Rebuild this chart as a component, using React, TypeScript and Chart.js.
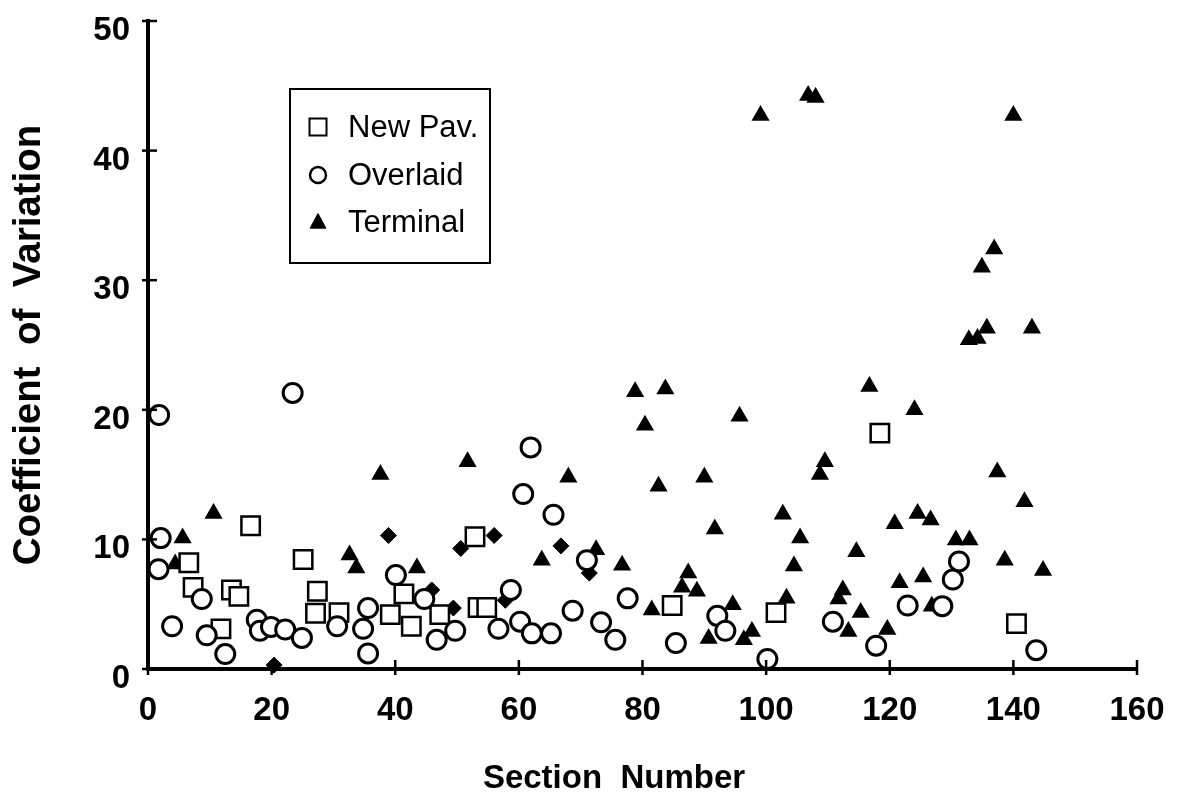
import React, { useEffect, useRef } from 'react';
import { Chart, registerables } from 'chart.js';

Chart.register(...registerables);

// ---- Data ----
const newPavX = [6.6, 7.3, 11.8, 13.5, 14.7, 16.6, 25.1, 27.1, 27.4, 30.9, 39.2, 41.4, 42.6, 47.2, 52.9, 53.4, 54.8, 84.8, 101.6, 118.4, 140.5];
const newPavY = [8.2, 6.3, 3.1, 6.1, 5.6, 11.05, 8.45, 4.3, 6.0, 4.35, 4.2, 5.8, 3.3, 4.2, 10.2, 4.75, 4.75, 4.9, 4.35, 18.2, 3.5];

const overlaidX = [1.8, 23.4, 2.05, 1.7, 8.7, 3.9, 9.5, 12.5, 17.6, 18.1, 19.9, 22.2, 24.9, 30.6, 34.8, 35.6, 35.6, 40.1, 44.7, 46.7, 49.7, 56.7, 58.7, 60.2, 60.7, 61.9, 62.1, 65.2, 65.6, 68.7, 71.0, 73.3, 75.6, 77.6, 85.4, 92.1, 93.4, 100.2, 110.8, 117.8, 122.9, 128.5, 130.2, 131.2, 143.7];
const overlaidY = [19.6, 21.3, 10.1, 7.7, 5.4, 3.3, 2.6, 1.15, 3.8, 2.95, 3.25, 3.05, 2.4, 3.3, 3.1, 4.7, 1.2, 7.25, 5.4, 2.25, 2.95, 3.1, 6.1, 3.65, 13.5, 17.1, 2.75, 2.75, 11.9, 4.5, 8.4, 3.6, 2.25, 5.45, 2.0, 4.1, 2.95, 0.77, 3.65, 1.8, 4.9, 4.85, 6.9, 8.3, 1.45];

const terminalX = [4.4, 5.6, 10.6, 32.6, 33.7, 37.6, 43.5, 51.7, 63.7, 68.0, 72.5, 76.7, 78.8, 80.4, 81.5, 82.6, 83.7, 86.4, 87.4, 88.8, 90.0, 90.7, 91.7, 94.6, 95.7, 96.4, 97.7, 99.1, 102.7, 103.3, 104.5, 105.5, 106.8, 108.0, 108.7, 109.5, 111.7, 112.4, 113.3, 114.6, 115.3, 116.7, 119.6, 120.8, 121.6, 124.0, 124.5, 125.4, 126.6, 126.8, 130.7, 132.9, 132.8, 134.2, 134.9, 135.7, 136.9, 137.4, 138.6, 140.0, 141.8, 143.0, 144.8];
const terminalY = [8.1, 10.1, 12.0, 8.8, 7.8, 15.0, 7.8, 16.0, 8.4, 14.8, 9.2, 8.0, 21.4, 18.8, 4.55, 14.1, 21.6, 6.3, 7.4, 6.0, 14.8, 2.35, 10.8, 4.95, 19.5, 2.25, 2.9, 42.7, 11.95, 5.45, 7.95, 10.1, 44.25, 44.1, 15.0, 16.0, 5.4, 6.1, 2.9, 9.05, 4.35, 21.8, 3.05, 11.2, 6.65, 20.0, 12.0, 7.1, 11.5, 4.85, 9.95, 9.95, 25.4, 25.5, 31.0, 26.3, 32.4, 15.2, 8.4, 42.7, 12.9, 26.3, 7.6];

// unlabelled filled diamond marks seen on the original
const diamondX = [20.4, 38.9, 45.9, 49.4, 50.6, 56.0, 57.8, 66.8, 71.4];
const diamondY = [0.3, 10.3, 6.1, 4.7, 9.3, 10.3, 5.3, 9.5, 7.4];

const xTicks = [0, 20, 40, 60, 80, 100, 120, 140, 160];
const yTicks = [0, 10, 20, 30, 40, 50];

const legendLabels = ['New Pav.', 'Overlaid', 'Terminal'];
const xTitle = 'Section  Number';
const yTitle = 'Coefficient  of  Variation';

const toPoints = (xs: number[], ys: number[]) => xs.map((x, i) => ({ x, y: ys[i] }));

const FONT = '"Liberation Sans", Arial, Helvetica, sans-serif';

const decorPlugin = {
  id: 'decor',
  afterDraw(chart: any) {
    const { ctx, chartArea, scales } = chart;
    const xs = scales.x;
    const ys = scales.y;
    ctx.save();
    ctx.strokeStyle = '#000';
    ctx.fillStyle = '#000';
    ctx.lineWidth = 2.5;
    // crossing tick marks
    xTicks.forEach((v) => {
      const px = xs.getPixelForValue(v);
      ctx.beginPath();
      ctx.moveTo(px, chartArea.bottom - 9);
      ctx.lineTo(px, chartArea.bottom + 6);
      ctx.stroke();
    });
    yTicks.forEach((v) => {
      const py = ys.getPixelForValue(v);
      ctx.beginPath();
      ctx.moveTo(chartArea.left - 6, py);
      ctx.lineTo(chartArea.left + 9, py);
      ctx.stroke();
    });

    // x axis title
    ctx.font = `bold 33px ${FONT}`;
    ctx.textAlign = 'center';
    ctx.textBaseline = 'middle';
    ctx.fillText(xTitle, chartArea.left + 466, chartArea.bottom + 110);

    // legend box
    const bx = chartArea.left + 142;
    const by = chartArea.top + 68;
    const bw = 200;
    const bh = 174;
    ctx.lineWidth = 2;
    ctx.strokeRect(bx, by, bw, bh);
    ctx.font = `31px ${FONT}`;
    ctx.textAlign = 'left';
    const rowY = [by + 38, by + 86, by + 133];
    const mx = bx + 28;
    // square
    ctx.lineWidth = 2;
    ctx.fillStyle = '#fff';
    ctx.fillRect(mx - 8.5, rowY[0] - 8.5, 17, 17);
    ctx.strokeRect(mx - 8.5, rowY[0] - 8.5, 17, 17);
    // circle
    ctx.lineWidth = 2.5;
    ctx.beginPath();
    ctx.arc(mx, rowY[1], 8, 0, Math.PI * 2);
    ctx.fill();
    ctx.stroke();
    // triangle
    ctx.fillStyle = '#000';
    ctx.beginPath();
    ctx.moveTo(mx, rowY[2] - 8);
    ctx.lineTo(mx + 7.5, rowY[2] + 6);
    ctx.lineTo(mx - 7.5, rowY[2] + 6);
    ctx.closePath();
    ctx.fill();
    ctx.lineWidth = 1.5;
    ctx.lineJoin = 'round';
    ctx.stroke();
    ctx.fillStyle = '#000';
    legendLabels.forEach((t, i) => ctx.fillText(t, bx + 58, rowY[i] + 1));
    ctx.restore();
  },
};

export default function App() {
  const canvasRef = useRef<HTMLCanvasElement | null>(null);

  useEffect(() => {
    const canvas = canvasRef.current;
    if (!canvas) return;
    const chart = new Chart(canvas, {
      type: 'scatter',
      data: {
        datasets: [
          {
            label: legendLabels[0],
            data: toPoints(newPavX, newPavY),
            pointStyle: 'rect',
            pointRadius: 13,
            pointBackgroundColor: '#fff',
            pointBorderColor: '#000',
            pointBorderWidth: 2.5,
            order: 1,
            clip: false,
          } as any,
          {
            label: legendLabels[1],
            data: toPoints(overlaidX, overlaidY),
            pointStyle: 'circle',
            pointRadius: 9.5,
            pointBackgroundColor: '#fff',
            pointBorderColor: '#000',
            pointBorderWidth: 3,
            order: 0,
            clip: false,
          },
          {
            label: legendLabels[2],
            data: toPoints(terminalX, terminalY),
            pointStyle: 'triangle',
            pointRadius: 9,
            pointBackgroundColor: '#000',
            pointBorderColor: '#000',
            pointBorderWidth: 1.5,
            order: 2,
            clip: false,
          },
          {
            label: 'other',
            data: toPoints(diamondX, diamondY),
            pointStyle: 'rectRot',
            pointRadius: 8,
            pointBackgroundColor: '#000',
            pointBorderColor: '#000',
            pointBorderWidth: 1,
            order: 3,
            clip: false,
          },
        ],
      },
      options: {
        responsive: false,
        animation: false,
        devicePixelRatio: 1,
        layout: { padding: { left: 0, top: 21, right: 40, bottom: 0 } },
        plugins: {
          legend: { display: false },
          tooltip: { enabled: false },
          title: { display: false },
        },
        scales: {
          x: {
            type: 'linear',
            min: 0,
            max: 160,
            grid: { display: false, drawTicks: false },
            border: { display: true, color: '#000', width: 4 },
            ticks: {
              stepSize: 20,
              color: '#000',
              padding: 22,
              font: { family: FONT, size: 33, weight: 'bold' },
            },
            afterFit: (s: any) => {
              s.height = 125;
              s.paddingLeft = 0;
              s.paddingRight = 0;
            },
          },
          y: {
            type: 'linear',
            min: 0,
            max: 50,
            grid: { display: false, drawTicks: false },
            border: { display: true, color: '#000', width: 4 },
            ticks: {
              stepSize: 10,
              color: '#000',
              padding: 18,
              labelOffset: 10,
              font: { family: FONT, size: 33, weight: 'bold' },
            },
            title: {
              display: true,
              text: yTitle,
              color: '#000',
              font: { family: FONT, size: 38.5, weight: 'bold' },
              padding: { top: 6, bottom: 0 },
            },
            afterFit: (s: any) => {
              s.width = 148;
              s.paddingTop = 0;
              s.paddingBottom = 0;
            },
          },
        },
      },
      plugins: [decorPlugin],
    });
    return () => chart.destroy();
  }, []);

  return (
    <div style={{ position: 'fixed', left: 0, top: 0, width: 1177, height: 794, background: '#fff' }}>
      <canvas ref={canvasRef} width={1177} height={794} style={{ display: 'block' }} />
    </div>
  );
}
